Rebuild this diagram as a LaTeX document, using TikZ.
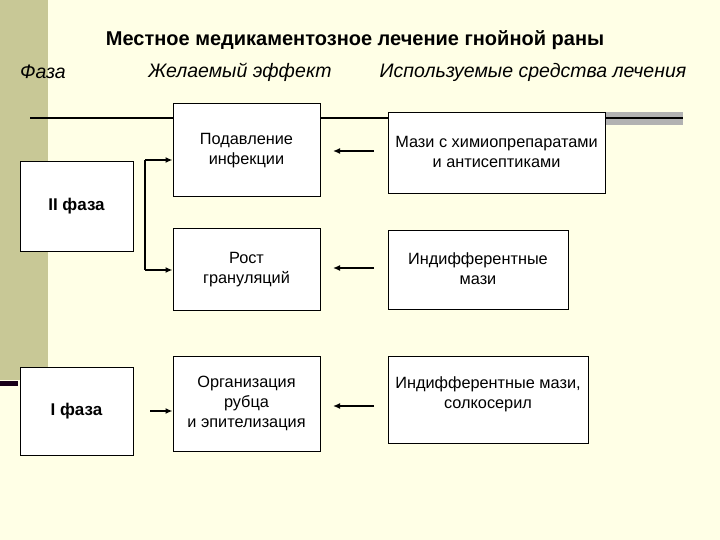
\documentclass[tikz,border=0pt]{standalone}
\usepackage{fontspec}
\setmainfont{Liberation Sans}
\usetikzlibrary{arrows.meta}
\definecolor{bg}{HTML}{FFFFE6}
\definecolor{strip}{HTML}{C8C896}
\begin{document}
\begin{tikzpicture}[x=1pt,y=-1pt,
  box/.style={draw=black,fill=white,line width=1pt,align=center,font=\fontsize{16.3}{20}\selectfont},
  txt/.style={align=center,font=\fontsize{16.3}{20}\selectfont},
  arr/.style={-{Latex[length=7pt,width=6pt]},line width=1.6pt},
  hdr/.style={font=\fontsize{19.5}{21}\selectfont\itshape}]
\fill[bg] (0,0) rectangle (720,540);
\useasboundingbox (0,0) rectangle (720,540);
\fill[strip] (0,0) rectangle (48,380);
\fill[black!80!violet] (0,381) rectangle (18,386);
\fill[gray!60] (605,112) rectangle (683,125);
\draw[line width=2pt] (30,118) -- (683,118);
\node[font=\fontsize{20}{22}\selectfont\bfseries] (title) at (355,40) {Местное медикаментозное лечение гнойной раны};
\node[hdr] (h1) at (43,72) {Фаза};
\node[hdr] (h2) at (240,72) {Желаемый эффект};
\node[hdr] (h3) at (533,72) {Используемые средства лечения};
\node[box,minimum width=113,minimum height=89,font=\fontsize{17}{19}\selectfont\bfseries] (f2) at (76.5,206.5) {II фаза};
\node[box,minimum width=113,minimum height=88,font=\fontsize{17}{19}\selectfont\bfseries] (f1) at (76.5,411) {I фаза};
\node[box,minimum width=147,minimum height=93] (e1) at (246.5,150.5) {Подавление\\инфекции};
\node[box,minimum width=147,minimum height=81] (e2) at (246.5,269.5) {Рост\\грануляций};
\node[box,minimum width=147,minimum height=95] (e3) at (246.5,403.5) {Организация\\рубца\\и эпителизация};
\draw[line width=1pt,fill=white] (388,113) rectangle (605,194);
\draw[line width=1pt,fill=white] (388,231) rectangle (568,309);
\draw[line width=1pt,fill=white] (388,356) rectangle (588,443);
\node[txt] (m1) at (496.5,152) {Мази с химиопрепаратами\\и антисептиками};
\node[txt] (m2) at (478,269) {Индифферентные\\мази};
\node[txt] (m3) at (488,394) {Индифферентные мази,\\солкосерил};
\coordinate (b1) at (145,160);
\coordinate (b2) at (145,270);
\draw[line width=1.6pt] (b1) -- (b2);
\draw[arr] (b1) -- (e1.west|-b1);
\draw[arr] (b2) -- (e2.west|-b2);
\draw[arr] (150,411) -- (e3.west|-0,411);
\draw[arr] (374,151) -- (333,151);
\draw[arr] (374,268) -- (333,268);
\draw[arr] (374,406) -- (333,406);
\end{tikzpicture}
\end{document}
